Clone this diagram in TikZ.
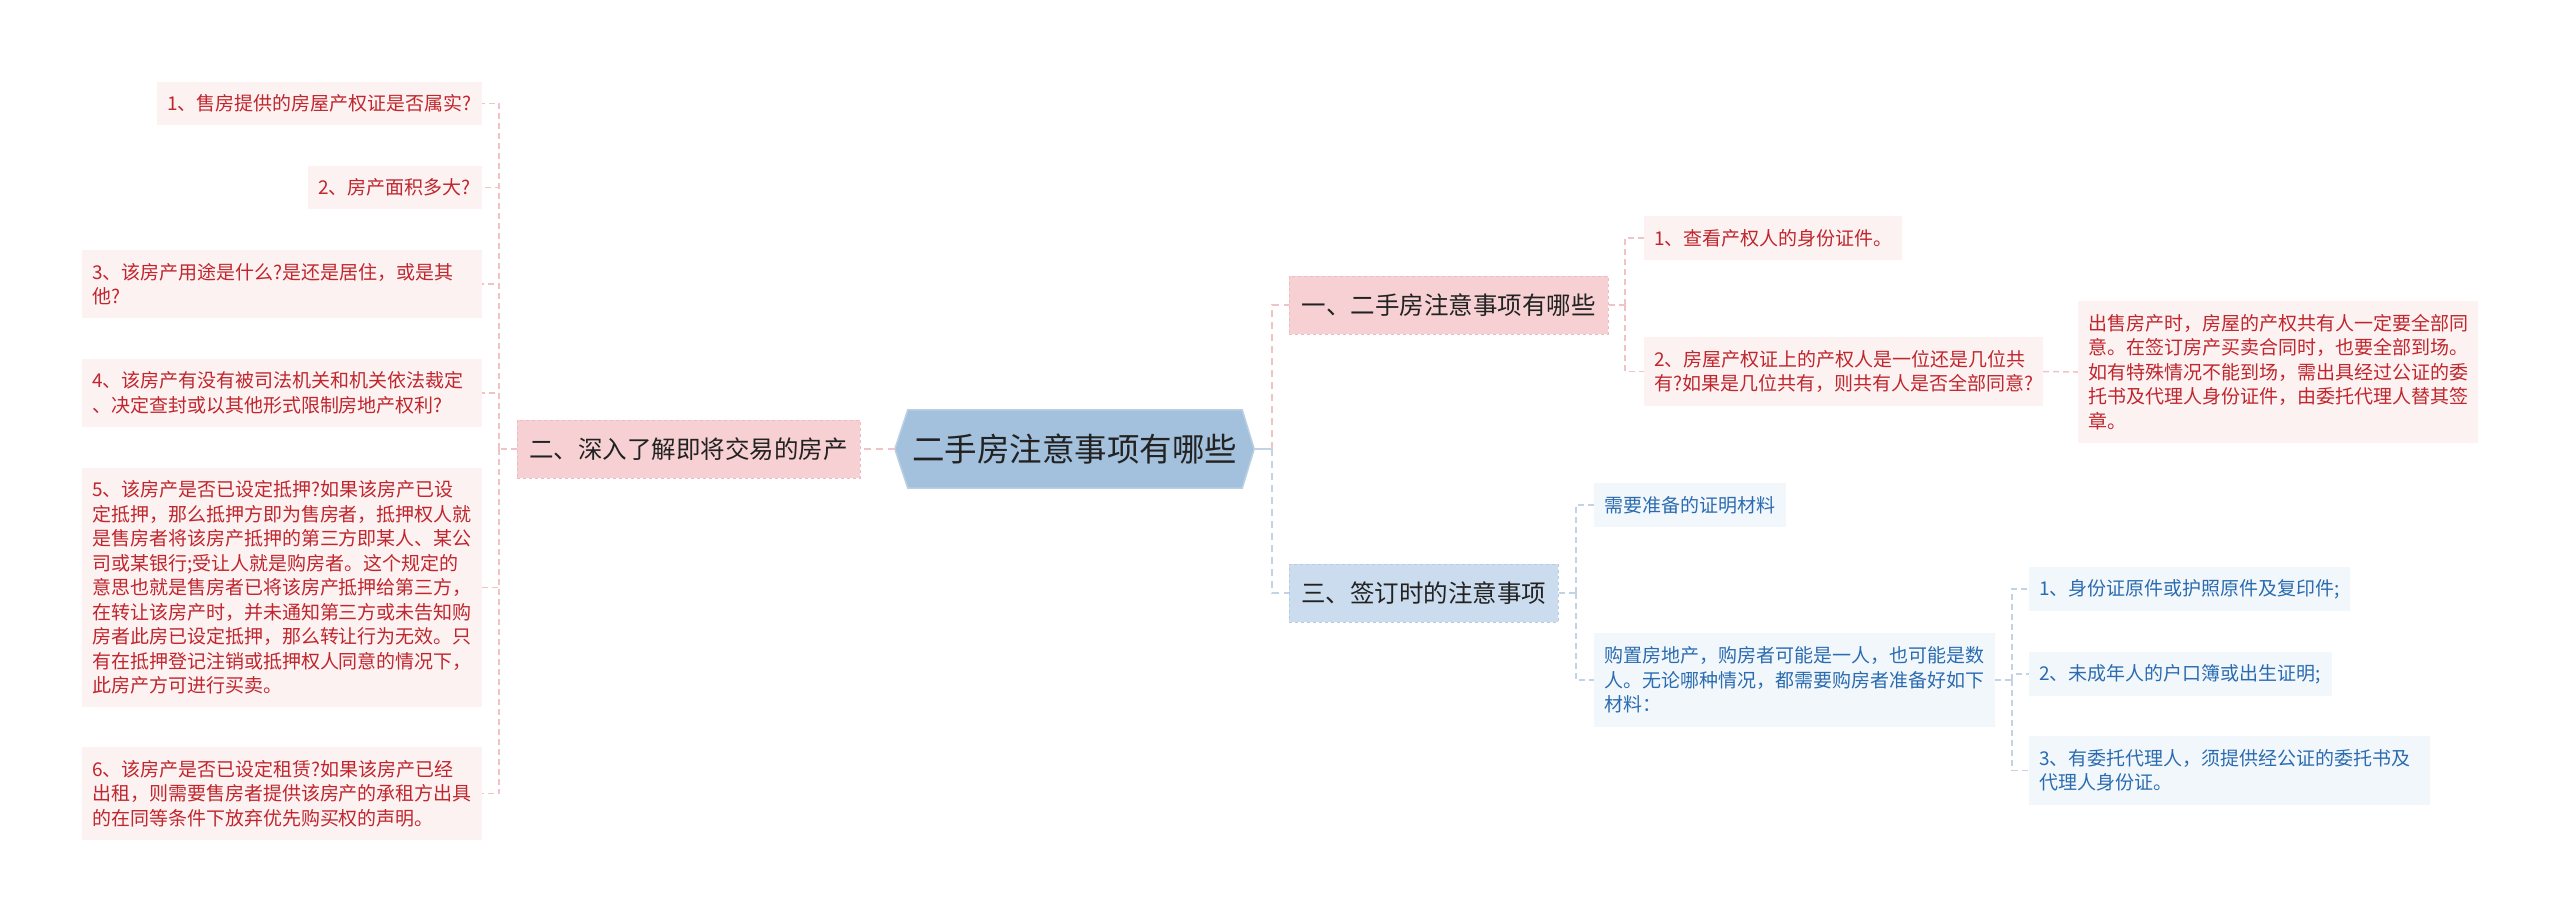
\documentclass[tikz,border=0pt]{standalone}
\usepackage{fontspec}
\setmainfont{Noto Sans CJK SC}
\usetikzlibrary{backgrounds}
\definecolor{pinkBranch}{HTML}{F6D0D2}
\definecolor{pinkBorder}{HTML}{EDBABD}
\definecolor{blueBranch}{HTML}{CADCEE}
\definecolor{blueBorder}{HTML}{B5CBE2}
\definecolor{rootFill}{HTML}{A3C0DC}
\definecolor{rootBorder}{HTML}{B9CFE4}
\definecolor{pinkLeaf}{HTML}{FCF2F2}
\definecolor{blueLeaf}{HTML}{F2F7FC}
\definecolor{pinkText}{HTML}{C0262D}
\definecolor{blueText}{HTML}{2B6CB0}
\definecolor{pinkLine}{HTML}{F0C3C6}
\definecolor{blueLine}{HTML}{C3D3E3}
\definecolor{darkText}{HTML}{222222}
\begin{document}
\begin{tikzpicture}[x=1pt,y=-1pt,
  rootnode/.style={minimum width=359pt, minimum height=78pt, inner sep=0pt,
    font=\fontsize{32.5pt}{38pt}\selectfont, text=darkText},
  pbranch/.style={draw=pinkBorder, dashed, fill=pinkBranch, line width=1pt, inner sep=0pt,
    minimum height=58pt, font=\fontsize{24.5pt}{30pt}\selectfont, text=darkText},
  bbranch/.style={draw=blueBorder, dashed, fill=blueBranch, line width=1pt, inner sep=0pt,
    minimum height=58pt, font=\fontsize{24.5pt}{30pt}\selectfont, text=darkText},
  pleaf/.style={fill=pinkLeaf, inner xsep=10pt, inner ysep=0pt, align=left,
    font=\fontsize{19pt}{24.5pt}\selectfont, text=pinkText},
  bleaf/.style={fill=blueLeaf, inner xsep=10pt, inner ysep=0pt, align=left,
    font=\fontsize{19pt}{24.5pt}\selectfont, text=blueText},
  pconn/.style={draw=pinkLine, line width=2.5pt, dash pattern=on 7pt off 5pt},
  bconn/.style={draw=blueLine, line width=2.5pt, dash pattern=on 7pt off 5pt},
  rconn/.style={draw=blueLine, line width=2.5pt},
  pconnb/.style={draw=pinkLine, line width=1.5pt, dash pattern=on 6pt off 4pt},
  bconnb/.style={draw=blueLine, line width=1.5pt, dash pattern=on 6pt off 4pt}]
\useasboundingbox (0,0) rectangle (2560,922);

% root
\node[rootnode] (root) at (1074.5,449) {二手房注意事项有哪些};

% branches
\node[pbranch, minimum width=343pt] (br2) at (688.5,449) {二、深入了解即将交易的房产};
\node[pbranch, minimum width=319pt] (br1) at (1448.5,305) {一、二手房注意事项有哪些};
\node[bbranch, minimum width=269pt] (br3) at (1423.5,593) {三、签订时的注意事项};

% left leaves
\node[pleaf, text width=305pt, minimum height=43pt] (L1) at (319.5,103.5) {1、售房提供的房屋产权证是否属实?};
\node[pleaf, text width=154pt, minimum height=43pt] (L2) at (395,187.5) {2、房产面积多大?};
\node[pleaf, text width=380pt, minimum height=68pt] (L3) at (282,284) {3、该房产用途是什么?是还是居住，或是其\\他?};
\node[pleaf, text width=380pt, minimum height=68pt] (L4) at (282,393) {4、该房产有没有被司法机关和机关依法裁定\\、决定查封或以其他形式限制房地产权利?};
\node[pleaf, text width=380pt, minimum height=239pt] (L5) at (282,587.5) {5、该房产是否已设定抵押?如果该房产已设\\定抵押，那么抵押方即为售房者，抵押权人就\\是售房者将该房产抵押的第三方即某人、某公\\司或某银行;受让人就是购房者。这个规定的\\意思也就是售房者已将该房产抵押给第三方，\\在转让该房产时，并未通知第三方或未告知购\\房者此房已设定抵押，那么转让行为无效。只\\有在抵押登记注销或抵押权人同意的情况下，\\此房产方可进行买卖。};
\node[pleaf, text width=380pt, minimum height=93pt] (L6) at (282,793.5) {6、该房产是否已设定租赁?如果该房产已经\\出租，则需要售房者提供该房产的承租方出具\\的在同等条件下放弃优先购买权的声明。};

% right pink leaves
\node[pleaf, text width=238pt, minimum height=44pt] (R1) at (1773,238) {1、查看产权人的身份证件。};
\node[pleaf, text width=379pt, minimum height=69pt] (R2) at (1843.5,371.5) {2、房屋产权证上的产权人是一位还是几位共\\有?如果是几位共有，则共有人是否全部同意?};
\node[pleaf, text width=380pt, minimum height=142pt] (RC) at (2278,372) {出售房产时，房屋的产权共有人一定要全部同\\意。在签订房产买卖合同时，也要全部到场。\\如有特殊情况不能到场，需出具经过公证的委\\托书及代理人身份证件，由委托代理人替其签\\章。};

% right blue leaves
\node[bleaf, text width=172pt, minimum height=44pt] (S1) at (1690,505) {需要准备的证明材料};
\node[bleaf, text width=381pt, minimum height=94pt] (S2) at (1794.5,680) {购置房地产，购房者可能是一人，也可能是数\\人。无论哪种情况，都需要购房者准备好如下\\材料：};
\node[bleaf, text width=301pt, minimum height=44pt] (B1) at (2189.5,589) {1、身份证原件或护照原件及复印件;};
\node[bleaf, text width=283pt, minimum height=44pt] (B2) at (2180.5,674) {2、未成年人的户口簿或出生证明;};
\node[bleaf, text width=381pt, minimum height=69pt] (B3) at (2229.5,770.5) {3、有委托代理人，须提供经公证的委托书及\\代理人身份证。};

% junctions
\coordinate (jL) at (499,449);
\coordinate (jR) at (1272,449);
\coordinate (j1) at (1625,305);
\coordinate (j2) at (1576,593);
\coordinate (j3) at (2012,680);

% connectors
\draw[pconn] (root.west) -- (br2.east);
\draw[rconn] (root.east) -- (jR);
\draw[pconn] (jR) |- (br1.west);
\draw[bconn] (jR) |- (br3.west);

\draw[pconnb] (br2.west) -- (jL);
\foreach \n in {L1,L2,L3} \draw[pconnb] (jL) |- (\n.east);
\foreach \n in {L4,L5,L6} \draw[pconnb] (jL) |- (\n.east);

\draw[pconnb] (br1.east) -- (j1);
\draw[pconnb] (j1) |- (R1.west);
\draw[pconnb] (j1) |- (R2.west);
\draw[pconnb] (R2.east) -- (RC.west);

\draw[bconnb] (br3.east) -- (j2);
\draw[bconnb] (j2) |- (S1.west);
\draw[bconnb] (j2) |- (S2.west);

\draw[bconnb] (S2.east) -- (j3);
\draw[bconnb] (j3) |- (B1.west);
\draw[bconnb] (j3) |- (B2.west);
\draw[bconnb] (j3) |- (B3.west);

\begin{scope}[on background layer]
  \fill[white] (0,0) rectangle (2560,922);
  \filldraw[fill=rootFill, draw=rootBorder, line width=1.5pt]
    (root.west) -- ([xshift=13pt]root.north west) -- ([xshift=-12pt]root.north east)
    -- (root.east) -- ([xshift=-12pt]root.south east) -- ([xshift=13pt]root.south west) -- cycle;
\end{scope}
\end{tikzpicture}
\end{document}
